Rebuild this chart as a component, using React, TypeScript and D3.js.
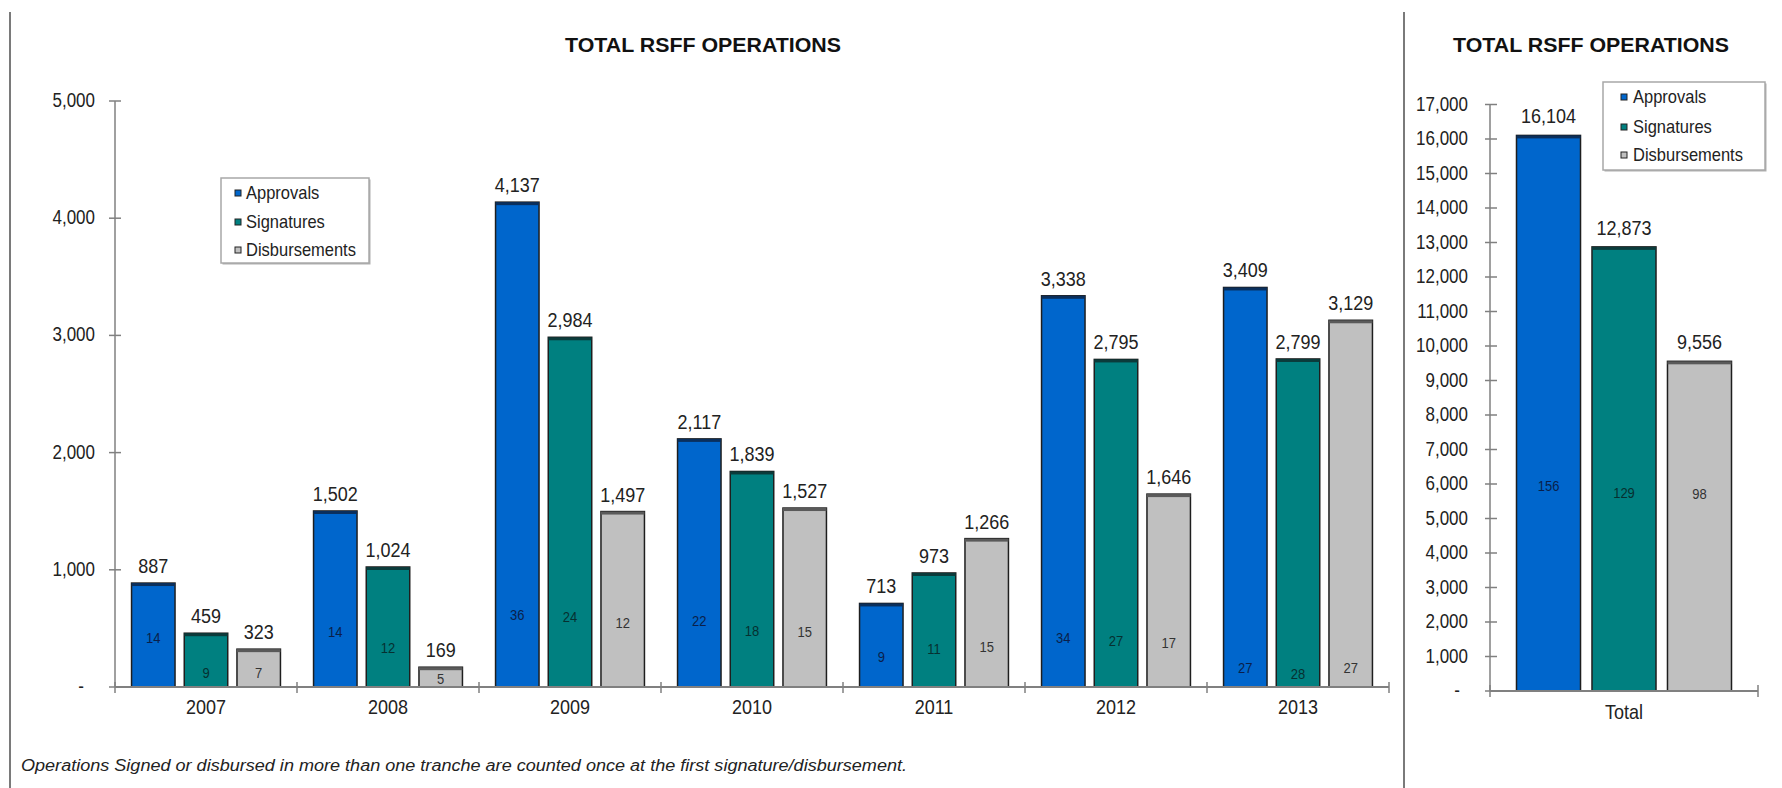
import React from 'react';
import * as d3 from 'd3';

// ---------- data ----------
const years = ['2007', '2008', '2009', '2010', '2011', '2012', '2013'];
const seriesNames = ['Approvals', 'Signatures', 'Disbursements'];
const approvals = [887, 1502, 4137, 2117, 713, 3338, 3409];
const signatures = [459, 1024, 2984, 1839, 973, 2795, 2799];
const disbursements = [323, 169, 1497, 1527, 1266, 1646, 3129];
const approvalsCount = [14, 14, 36, 22, 9, 34, 27];
const signaturesCount = [9, 12, 24, 18, 11, 27, 28];
const disbursementsCount = [7, 5, 12, 15, 15, 17, 27];
// level (in axis units) at which the count labels sit
const approvalsCountLevel = [416, 472, 614, 566, 259, 416, 160];
const signaturesCountLevel = [122, 333, 600, 480, 322, 395, 111];
const disbursementsCountLevel = [119, 68, 549, 467, 344, 378, 160];

const totalCategory = ['Total'];
const totals = [16104, 12873, 9556];
const totalCounts = [156, 129, 98];
const totalCountLevel = [5942, 5739, 5710];

const leftTicks = [0, 1000, 2000, 3000, 4000, 5000];
const rightTicks = [0, 1000, 2000, 3000, 4000, 5000, 6000, 7000, 8000, 9000, 10000, 11000, 12000, 13000, 14000, 15000, 16000, 17000];

const titleText = 'TOTAL RSFF OPERATIONS';
const footnoteText = 'Operations Signed or disbursed in more than one tranche are counted once at the first signature/disbursement.';

// ---------- styles ----------
const FONT = 'Liberation Sans, Arial, Helvetica, sans-serif';
const fills = ['#0066CC', '#008080', '#C0C0C0'];
const topFills = ['#0a2f5c', '#0b3b3b', '#5a5a5a'];
const countColors = ['#0a1f4a', '#063030', '#333333'];
const axisColor = '#808080';
const fmt = d3.format(',');
const tickFmt = (v: number) => (v === 0 ? '-' : fmt(v));

// text drawn slightly taller than wide, like the source image
function T(props: { x: number; y: number; size: number; anchor?: string; fill?: string; children: React.ReactNode }) {
  const { x, y, size, anchor = 'start', fill = '#222', children } = props;
  return (
    <text transform={`translate(${x},${y}) scale(1,1.15)`} textAnchor={anchor} fontSize={size} fontFamily={FONT} fill={fill}>
      {children}
    </text>
  );
}

export default function App() {
  const W = 1782;
  const H = 788;

  const xL = d3.scaleBand<string>().domain(years).range([115, 1389]).paddingInner(0).paddingOuter(0);
  const xLs = d3.scaleBand<string>().domain(seriesNames).range([0, xL.bandwidth()]).paddingInner(0.175).paddingOuter(0.314);
  const yL = d3.scaleLinear().domain([0, 5000]).range([687, 101]);

  const xR = d3.scaleBand<string>().domain(totalCategory).range([1490, 1758]).paddingInner(0).paddingOuter(0);
  const xRs = d3.scaleBand<string>().domain(seriesNames).range([0, xR.bandwidth()]).paddingInner(0.152).paddingOuter(0.351);
  const yR = d3.scaleLinear().domain([0, 17000]).range([691, 104.5]);

  const leftValues = [approvals, signatures, disbursements];
  const leftCounts = [approvalsCount, signaturesCount, disbursementsCount];
  const leftLevels = [approvalsCountLevel, signaturesCountLevel, disbursementsCountLevel];

  const bar = (key: string, x: number, w: number, y0: number, y1: number, si: number) => (
    <g key={key}>
      <rect x={x} y={y1} width={w} height={y0 - y1} fill={fills[si]} stroke="#1e1e1e" strokeWidth={1.5} />
      <rect x={x} y={y1} width={w} height={3} fill={topFills[si]} />
    </g>
  );

  const legend = (key: string, x0: number, y0: number, w: number, h: number, sqX: number, txtX: number, rows: number[]) => (
    <g key={key}>
      <rect x={x0 + 1.5} y={y0 + 1.5} width={w} height={h} fill="#b0b0b0" />
      <rect x={x0} y={y0} width={w} height={h} fill="#ffffff" stroke="#a8a8a8" strokeWidth={1.5} />
      {seriesNames.map((s, i) => (
        <g key={s}>
          <rect x={sqX} y={rows[i] - 3} width={6} height={6} fill={fills[i]} stroke="#222" strokeWidth={1} />
          <T x={txtX} y={rows[i] + 5.5} size={16.5}>{s}</T>
        </g>
      ))}
    </g>
  );

  return (
    <svg width={W} height={H} style={{ position: 'absolute', left: 0, top: 0, display: 'block', background: '#fff' }}>
      <rect x={0} y={0} width={W} height={H} fill="#ffffff" />
      <line x1={10} y1={12} x2={10} y2={H} stroke="#7a7a7a" strokeWidth={2} />
      <line x1={1404} y1={12} x2={1404} y2={H} stroke="#7a7a7a" strokeWidth={2} />

      <text x={703} y={52} textAnchor="middle" fontSize={20} fontWeight="bold" fontFamily={FONT} fill="#111" textLength={276} lengthAdjust="spacingAndGlyphs">{titleText}</text>
      <text x={1591} y={52} textAnchor="middle" fontSize={20} fontWeight="bold" fontFamily={FONT} fill="#111" textLength={276} lengthAdjust="spacingAndGlyphs">{titleText}</text>

      {/* ---------- left chart ---------- */}
      <line x1={115} y1={yL(5000)} x2={115} y2={yL(0)} stroke={axisColor} strokeWidth={1.5} />
      {leftTicks.map((t) => (
        <g key={'lt' + t}>
          <line x1={109} x2={121} y1={yL(t)} y2={yL(t)} stroke={axisColor} strokeWidth={1.5} />
          <T x={t === 0 ? 84 : 95} y={yL(t) + 6} size={17} anchor="end">{tickFmt(t)}</T>
        </g>
      ))}
      {years.map((yr, ci) => {
        const bx = xL(yr) as number;
        return (
          <g key={yr}>
            {seriesNames.map((s, si) => {
              const v = leftValues[si][ci];
              const x = bx + (xLs(s) as number);
              const w = xLs.bandwidth();
              return (
                <g key={s}>
                  {bar(s, x, w, yL(0), yL(v), si)}
                  <T x={x + w / 2} y={yL(v) - 10} size={18} anchor="middle">{fmt(v)}</T>
                  <T x={x + w / 2} y={yL(leftLevels[si][ci]) + 5} size={13} anchor="middle" fill={countColors[si]}>{leftCounts[si][ci]}</T>
                </g>
              );
            })}
            <T x={bx + xL.bandwidth() / 2} y={714} size={18} anchor="middle">{yr}</T>
          </g>
        );
      })}
      <line x1={115} x2={1389} y1={yL(0)} y2={yL(0)} stroke={axisColor} strokeWidth={2} />
      {[...years.map((yr) => xL(yr) as number), 1389].map((bx, i) => (
        <line key={'xt' + i} x1={bx} x2={bx} y1={yL(0) - 5} y2={yL(0) + 6} stroke={axisColor} strokeWidth={1.5} />
      ))}
      {legend('legL', 221, 178, 148, 85, 235, 246, [193, 222, 250])}

      {/* ---------- right chart ---------- */}
      <line x1={1490} y1={yR(17000)} x2={1490} y2={yR(0)} stroke={axisColor} strokeWidth={1.5} />
      {rightTicks.map((t) => (
        <g key={'rt' + t}>
          <line x1={1485} x2={1497} y1={yR(t)} y2={yR(t)} stroke={axisColor} strokeWidth={1.5} />
          <T x={t === 0 ? 1460 : 1468} y={yR(t) + 6} size={17} anchor="end">{tickFmt(t)}</T>
        </g>
      ))}
      {seriesNames.map((s, si) => {
        const v = totals[si];
        const x = (xR('Total') as number) + (xRs(s) as number);
        const w = xRs.bandwidth();
        return (
          <g key={'r' + s}>
            {bar(s, x, w, yR(0), yR(v), si)}
            <T x={x + w / 2} y={yR(v) - 12} size={18} anchor="middle">{fmt(v)}</T>
            <T x={x + w / 2} y={yR(totalCountLevel[si]) + 5} size={13} anchor="middle" fill={countColors[si]}>{totalCounts[si]}</T>
          </g>
        );
      })}
      <line x1={1490} x2={1758} y1={yR(0)} y2={yR(0)} stroke={axisColor} strokeWidth={2} />
      {[1490, 1758].map((bx) => (
        <line key={'rxt' + bx} x1={bx} x2={bx} y1={yR(0) - 6} y2={yR(0) + 6} stroke={axisColor} strokeWidth={1.5} />
      ))}
      <T x={(xR('Total') as number) + xR.bandwidth() / 2} y={719} size={18} anchor="middle">Total</T>
      {legend('legR', 1603, 82, 162, 88, 1621, 1633, [97, 127, 155])}

      <text x={21} y={771} fontSize={16} fontStyle="italic" fontFamily={FONT} fill="#222" textLength={886} lengthAdjust="spacingAndGlyphs">{footnoteText}</text>
    </svg>
  );
}
